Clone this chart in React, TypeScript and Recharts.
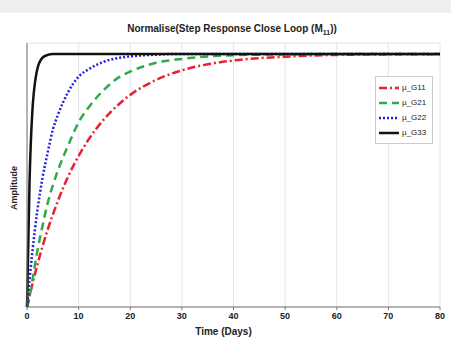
import React from 'react';
import { LineChart, Line, XAxis, YAxis, CartesianGrid, Legend } from 'recharts';

// time samples (days) and read-off amplitudes
const time = [0, 0.5, 1, 2, 3, 4, 5, 6, 8, 10, 12, 15, 18, 20, 25, 30, 35, 40, 50, 60, 70, 80];
const muG11 = [0, 0.044, 0.087, 0.166, 0.239, 0.305, 0.365, 0.42, 0.517, 0.597, 0.664, 0.744, 0.805, 0.838, 0.897, 0.935, 0.959, 0.974, 0.989, 0.996, 0.998, 0.999];
const muG21 = [0, 0.04, 0.1, 0.22, 0.32, 0.41, 0.48, 0.54, 0.64, 0.73, 0.79, 0.86, 0.91, 0.93, 0.965, 0.98, 0.99, 0.995, 0.998, 1, 1, 1];
const muG22 = [0, 0.11, 0.21, 0.38, 0.51, 0.61, 0.7, 0.76, 0.85, 0.91, 0.94, 0.97, 0.985, 0.99, 0.997, 1, 1, 1, 1, 1, 1, 1];
const muG33 = [0, 0.5, 0.76, 0.94, 0.985, 0.996, 1, 1, 1, 1, 1, 1, 1, 1, 1, 1, 1, 1, 1, 1, 1, 1];

const xTicks = [0, 10, 20, 30, 40, 50, 60, 70, 80];
const yTicks = [0, 0.2, 0.4, 0.6, 0.8, 1];

const data = time.map((t, i) => ({
  t,
  g11: muG11[i],
  g21: muG21[i],
  g22: muG22[i],
  g33: muG33[i],
}));

const font = 'Arial, "Liberation Sans", sans-serif';

function LegendBox(props: any) {
  const items = props.payload || [];
  return (
    <div style={{ background: '#fff', border: '1px solid #ccc', padding: '3px 3px', width: 58, boxSizing: 'border-box' }}>
      {items.map((it: any) => (
        <div key={it.value} style={{ display: 'flex', alignItems: 'center', height: 15, whiteSpace: 'nowrap' }}>
          <svg width={20} height={6} style={{ marginRight: 3 }}>
            <line x1={0} y1={3} x2={20} y2={3} stroke={it.color} strokeWidth={2.5}
              strokeDasharray={it.payload?.strokeDasharray} />
          </svg>
          <span style={{ fontSize: 8, color: '#222' }}>{it.value}</span>
        </div>
      ))}
    </div>
  );
}

export default function App() {
  return (
    <div style={{ position: 'absolute', left: 0, top: 0, width: 451, height: 338, background: '#fff', fontFamily: font }}>
      <div style={{ position: 'absolute', left: 0, top: 0, width: 451, height: 13, background: '#eeeeee' }} />
      <div style={{ position: 'absolute', left: 0, top: 23, width: 464, textAlign: 'center', fontSize: 10, fontWeight: 'bold', color: '#222', whiteSpace: 'nowrap' }}>
        Normalise(Step Response Close Loop (M<sub style={{ fontSize: 7 }}>11</sub>))
      </div>
      <div style={{ position: 'absolute', left: 0, top: 326, width: 447, textAlign: 'center', fontSize: 10, fontWeight: 'bold', color: '#222' }}>
        Time (Days)
      </div>
      <div style={{ position: 'absolute', left: 14, top: 188, transform: 'translate(-50%, -50%) rotate(-90deg)', fontSize: 9, fontWeight: 'bold', color: '#222', whiteSpace: 'nowrap' }}>
        Amplitude
      </div>
      <LineChart width={451} height={338} data={data} margin={{ top: 43, right: 11, bottom: 0, left: 0 }} style={{ position: 'absolute', left: 0, top: 0 }}>
        <CartesianGrid stroke="#e6e6e6" vertical horizontal />
        <XAxis dataKey="t" type="number" domain={[0, 80]} ticks={xTicks} height={31} tickSize={3}
          tick={{ fontSize: 9, fontWeight: 'bold', fill: '#222', fontFamily: font }} stroke="#777" tickMargin={3} />
        <XAxis xAxisId="top" orientation="top" dataKey="t" type="number" domain={[0, 80]} ticks={xTicks} height={0}
          tick={false} mirror stroke="#999" tickSize={3} />
        <YAxis type="number" domain={[0, 1.043]} ticks={yTicks} width={27} tick={false} stroke="#777" tickSize={3} />
        <YAxis yAxisId="right" orientation="right" type="number" domain={[0, 1.043]} ticks={yTicks} width={0} tick={false} mirror stroke="#999" tickSize={3} />
        <Legend layout="vertical" align="center" verticalAlign="middle" content={<LegendBox />}
          wrapperStyle={{ position: 'absolute', left: 375, top: 76, width: 58, fontFamily: font }} />
        <Line dataKey="g11" name="µ_G11" type="monotone" stroke="#e8202f" strokeWidth={2.5} strokeDasharray="8 3 2 3" dot={false} isAnimationActive={false} />
        <Line dataKey="g21" name="µ_G21" type="monotone" stroke="#2eaa4a" strokeWidth={2.5} strokeDasharray="8 5" dot={false} isAnimationActive={false} />
        <Line dataKey="g22" name="µ_G22" type="monotone" stroke="#2222dd" strokeWidth={2.5} strokeDasharray="2 2" dot={false} isAnimationActive={false} />
        <Line dataKey="g33" name="µ_G33" type="monotone" stroke="#111" strokeWidth={2.5} dot={false} isAnimationActive={false} />
      </LineChart>
    </div>
  );
}
